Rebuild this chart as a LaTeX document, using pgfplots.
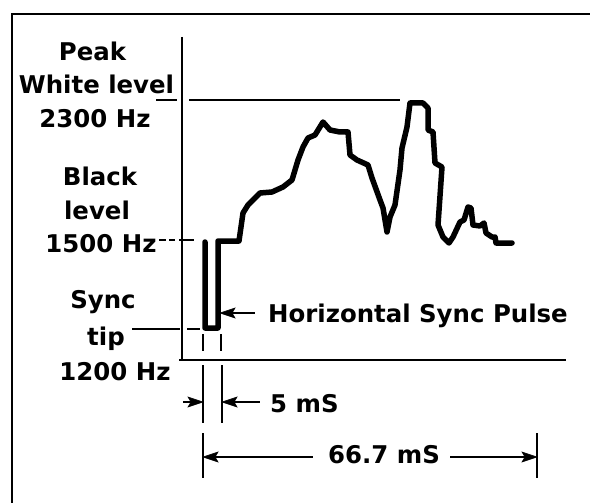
\documentclass[border=0pt]{standalone}
\usepackage{fontspec}
\usepackage{pgfplots}
\pgfplotsset{compat=1.18}
\newfontfamily\df{DejaVu Sans}
\newcommand\lab{\df\bfseries\fontsize{24.5}{26}\selectfont}
\tikzset{lb/.style={font=\lab, inner sep=0pt}}
\pgfplotsset{thin line/.style={black, line width=1.5bp},
  head/.style={black, fill=black, line width=0.6bp, line join=miter}}
\begin{document}
\begin{tikzpicture}
\begin{axis}[
  x=1bp, y=1bp,
  xmin=0, xmax=590, ymin=0, ymax=503,
  y dir=reverse,
  hide axis,
  clip=true,
]
% frame
\addplot[black, line width=2.5bp] coordinates {(12,503) (12,14) (590,14)};
% axes
\addplot[black, line width=2bp] coordinates {(182,37) (182,360)};
\addplot[black, line width=2bp] coordinates {(179,360) (566,360)};
% peak white level line
\addplot[thin line] coordinates {(156,100) (177,100)};
\addplot[thin line] coordinates {(189,100) (400,100)};
% black level dashed
\addplot[thin line] coordinates {(159,240) (166,240)};
\addplot[thin line] coordinates {(169,240) (175,240)};
\addplot[thin line] coordinates {(179,240) (194,240)};
% sync tip line
\addplot[thin line] coordinates {(132,329) (180,329)};
\addplot[thin line] coordinates {(187,329) (200,329)};
% short dashes under pulse
\addplot[thin line] coordinates {(203,334) (203,351)};
\addplot[thin line] coordinates {(221,334) (221,351)};
% extension lines below axis
\addplot[thin line] coordinates {(203,365) (203,423)};
\addplot[thin line] coordinates {(222,365) (222,423)};
\addplot[thin line] coordinates {(203,433) (203,478)};
\addplot[thin line] coordinates {(537,433) (537,478)};
% arrow shafts
\addplot[thin line] coordinates {(183,402) (192,402)};
\addplot[thin line] coordinates {(233,402) (260,402)};
\addplot[thin line] coordinates {(214,457) (313,457)};
\addplot[thin line] coordinates {(450,457) (526,457)};
\addplot[thin line] coordinates {(231,313) (255,313)};
% arrow heads
\addplot[head] coordinates {(203,402) (188,397) (191,402) (188,407) (203,402)};
\addplot[head] coordinates {(222,402) (237,397) (234,402) (237,407) (222,402)};
\addplot[head] coordinates {(203,457) (218,452) (215,457) (218,462) (203,457)};
\addplot[head] coordinates {(537,457) (522,452) (525,457) (522,462) (537,457)};
\addplot[head] coordinates {(220,313) (235,308) (232,313) (235,318) (220,313)};
% waveform
\addplot[black, line width=5.5bp, line join=round, line cap=round] coordinates {
(205,242) (205,328) (218,328) (218,241) (239,241) (243,213) (248,205) (260,193)
(272,192) (283,187) (292,180) (295,170) (298,160) (303,147) (308,138) (315,135)
(323,122) (330,130) (340,132) (348,132) (350,155) (357,160) (368,165) (372,178)
(380,200) (383,208) (387,232) (390,217) (395,205) (400,170) (402,148) (407,127)
(410,103) (423,103) (428,108) (428,130) (433,132) (435,163) (442,167) (438,225)
(443,237) (449,243) (453,237) (460,222) (464,220) (468,207) (471,208) (473,225)
(480,226) (484,223) (486,233) (492,237) (495,237) (496,243) (512,243)
};
% labels
\node[lb, anchor=base] at (axis cs:92.5,61) {Peak};
\node[lb, anchor=base] at (axis cs:96.5,94) {White level};
\node[lb, anchor=base] at (axis cs:95,128) {2300 Hz};
\node[lb, anchor=base] at (axis cs:100,186) {Black};
\node[lb, anchor=base] at (axis cs:97,220) {level};
\node[lb, anchor=base] at (axis cs:101,252) {1500 Hz};
\node[lb, anchor=base] at (axis cs:103,308) {Sync};
\node[lb, anchor=base] at (axis cs:106,345) {tip};
\node[lb, anchor=base] at (axis cs:115,380) {1200 Hz};
\node[lb, anchor=base west] at (axis cs:268,322) {Horizontal Sync Pulse};
\node[lb, anchor=base west] at (axis cs:270,412) {5 mS};
\node[lb, anchor=base] at (axis cs:384,463) {66.7 mS};
\end{axis}
\pgfresetboundingbox
\path (current axis.south west) rectangle (current axis.north east);
\end{tikzpicture}
\end{document}
